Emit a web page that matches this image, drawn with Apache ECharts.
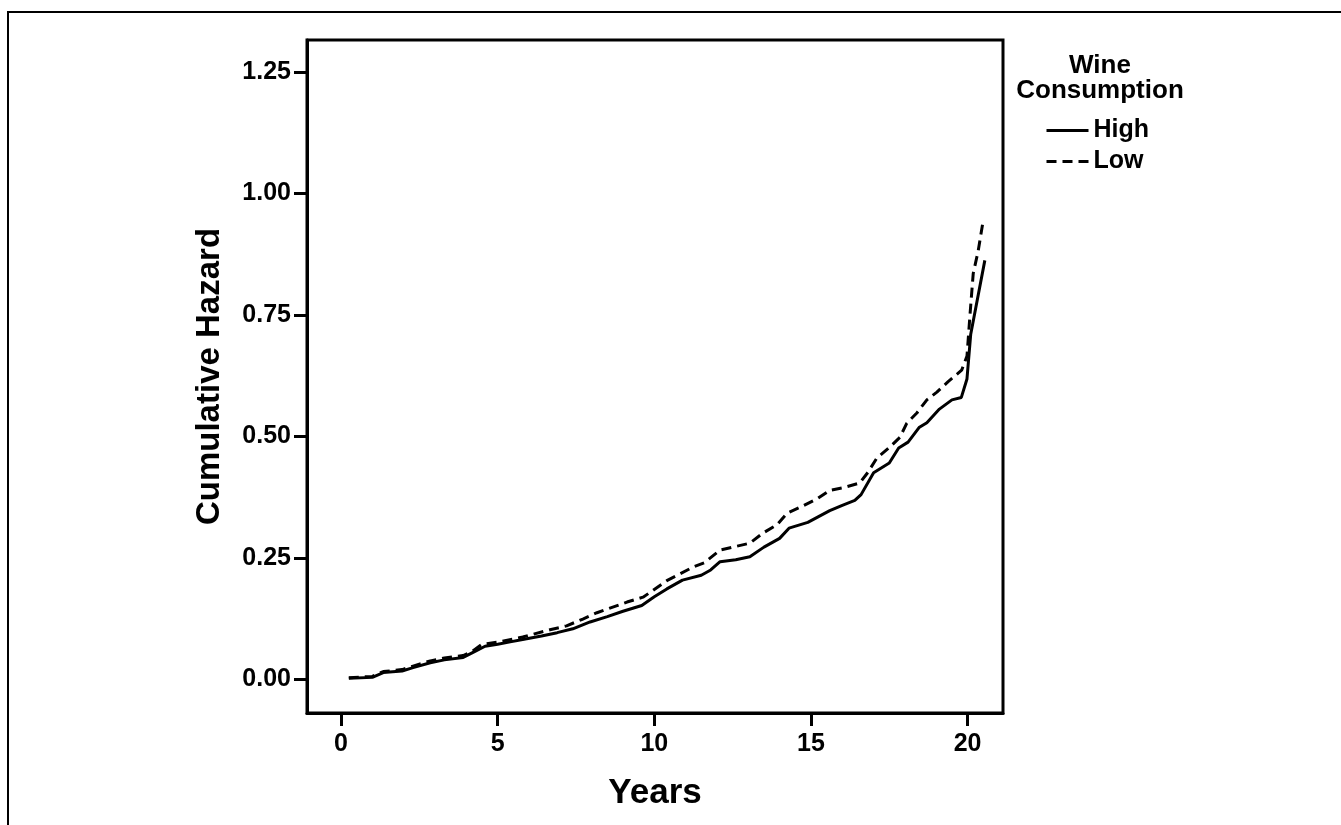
<!DOCTYPE html>
<html>
<head>
<meta charset="utf-8">
<title>Cumulative Hazard</title>
<script src="https://cdn.jsdelivr.net/npm/echarts@6/dist/echarts.min.js"></script>
<style>
  html, body { margin: 0; padding: 0; background: #fff; }
  #main { width: 1341px; height: 825px; }
</style>
</head>
<body>
<div id="main"></div>
<script>
// data
const highYears = [0.25, 1.0, 1.35, 1.95, 2.3, 2.85, 3.3, 3.9, 4.2, 4.6, 5.0, 5.4, 5.8, 6.4, 6.9, 7.4, 7.95, 8.5, 9.0, 9.6, 10.0, 10.4, 10.9, 11.5, 11.8, 12.1, 12.6, 13.05, 13.5, 14.0, 14.3, 14.9, 15.6, 16.0, 16.4, 16.6, 17.0, 17.5, 17.8, 18.1, 18.45, 18.7, 19.1, 19.5, 19.8, 19.98, 20.1, 20.55];
const highHazard = [0.002, 0.004, 0.014, 0.017, 0.024, 0.034, 0.040, 0.045, 0.055, 0.068, 0.072, 0.077, 0.082, 0.089, 0.096, 0.104, 0.118, 0.129, 0.140, 0.152, 0.170, 0.186, 0.204, 0.214, 0.225, 0.242, 0.246, 0.252, 0.272, 0.290, 0.311, 0.323, 0.347, 0.358, 0.368, 0.380, 0.425, 0.445, 0.476, 0.488, 0.518, 0.528, 0.556, 0.575, 0.580, 0.618, 0.710, 0.862];
const lowYears = [0.25, 1.0, 1.35, 1.95, 2.3, 2.85, 3.3, 3.9, 4.2, 4.5, 5.07, 5.8, 6.67, 7.2, 7.72, 8.17, 9.13, 9.64, 9.96, 10.4, 11.24, 11.6, 12.1, 12.64, 13.05, 13.47, 13.92, 14.24, 14.65, 15.19, 15.61, 16.02, 16.56, 16.82, 17.1, 17.52, 17.84, 18.06, 18.38, 18.7, 19.02, 19.37, 19.81, 19.98, 20.08, 20.18, 20.34, 20.5];
const lowHazard = [0.003, 0.006, 0.016, 0.020, 0.027, 0.038, 0.044, 0.049, 0.058, 0.072, 0.077, 0.087, 0.102, 0.110, 0.124, 0.137, 0.159, 0.169, 0.183, 0.203, 0.231, 0.240, 0.266, 0.274, 0.280, 0.301, 0.318, 0.342, 0.354, 0.371, 0.389, 0.394, 0.404, 0.426, 0.455, 0.478, 0.498, 0.527, 0.548, 0.575, 0.591, 0.612, 0.636, 0.665, 0.753, 0.835, 0.882, 0.945];
const xTicks = [0, 5, 10, 15, 20];
const yTicks = [0, 0.25, 0.5, 0.75, 1.0, 1.25];
const seriesNames = ["High", "Low"];

const font = "Arial, 'Liberation Sans', sans-serif";

function pairs(xs, ys) {
  return xs.map((x, i) => [x, ys[i]]);
}

let myChart = echarts.init(document.getElementById("main"));

let axisLine = { show: true, onZero: false, lineStyle: { color: "#000", width: 3 } };

let option = {
  animation: false,
  backgroundColor: "#fff",
  graphic: [
    {
      // outer frame (only left and top edges are inside the picture)
      type: "rect",
      shape: { x: 8, y: 12, width: 1400, height: 900 },
      style: { fill: null, stroke: "#000", lineWidth: 2 }
    },
    {
      type: "text",
      x: 1100,
      y: 53,
      style: {
        text: "Wine\nConsumption",
        textAlign: "center",
        textVerticalAlign: "top",
        font: "bold 26px " + font,
        lineHeight: 25,
        fill: "#000"
      }
    }
  ],
  legend: {
    orient: "vertical",
    left: 1045,
    top: 118,
    padding: 0,
    itemWidth: 42,
    itemHeight: 14,
    itemGap: 6,
    data: seriesNames,
    itemStyle: { opacity: 0 },
    lineStyle: { width: 3 },
    textStyle: { fontFamily: font, fontWeight: "bold", fontSize: 25, color: "#000" }
  },
  grid: {
    left: 307,
    top: 40,
    right: 338,
    bottom: 112,
    show: true,
    borderColor: "#000",
    borderWidth: 3
  },
  xAxis: {
    type: "value",
    min: -1.085,
    max: 21.13,
    name: "Years",
    nameLocation: "middle",
    nameGap: 63,
    nameTextStyle: { fontFamily: font, fontWeight: "bold", fontSize: 35, color: "#000" },
    axisLine: axisLine,
    splitLine: { show: false },
    axisTick: { show: true, inside: false, length: 13, customValues: xTicks, lineStyle: { color: "#000", width: 3 } },
    axisLabel: { customValues: xTicks, margin: 19, fontFamily: font, fontWeight: "bold", fontSize: 25, color: "#000" }
  },
  yAxis: {
    type: "value",
    min: -0.0693,
    max: 1.3154,
    name: "Cumulative Hazard",
    nameLocation: "middle",
    nameGap: 81,
    nameTextStyle: { fontFamily: font, fontWeight: "bold", fontSize: 33, color: "#000" },
    axisLine: axisLine,
    splitLine: { show: false },
    axisTick: { show: true, inside: false, length: 13, customValues: yTicks, lineStyle: { color: "#000", width: 3 } },
    axisLabel: {
      customValues: yTicks,
      margin: 16,
      fontFamily: font,
      fontWeight: "bold",
      fontSize: 25,
      color: "#000",
      formatter: function(v) { return v.toFixed(2); }
    }
  },
  series: [
    {
      name: seriesNames[0],
      type: "line",
      data: pairs(highYears, highHazard),
      symbol: "none",
      itemStyle: { color: "#000" },
      lineStyle: { color: "#000", width: 3, type: "solid" }
    },
    {
      name: seriesNames[1],
      type: "line",
      data: pairs(lowYears, lowHazard),
      symbol: "none",
      itemStyle: { color: "#000" },
      lineStyle: { color: "#000", width: 3, type: [10, 6] }
    }
  ]
};

myChart.setOption(option);
</script>
</body>
</html>
